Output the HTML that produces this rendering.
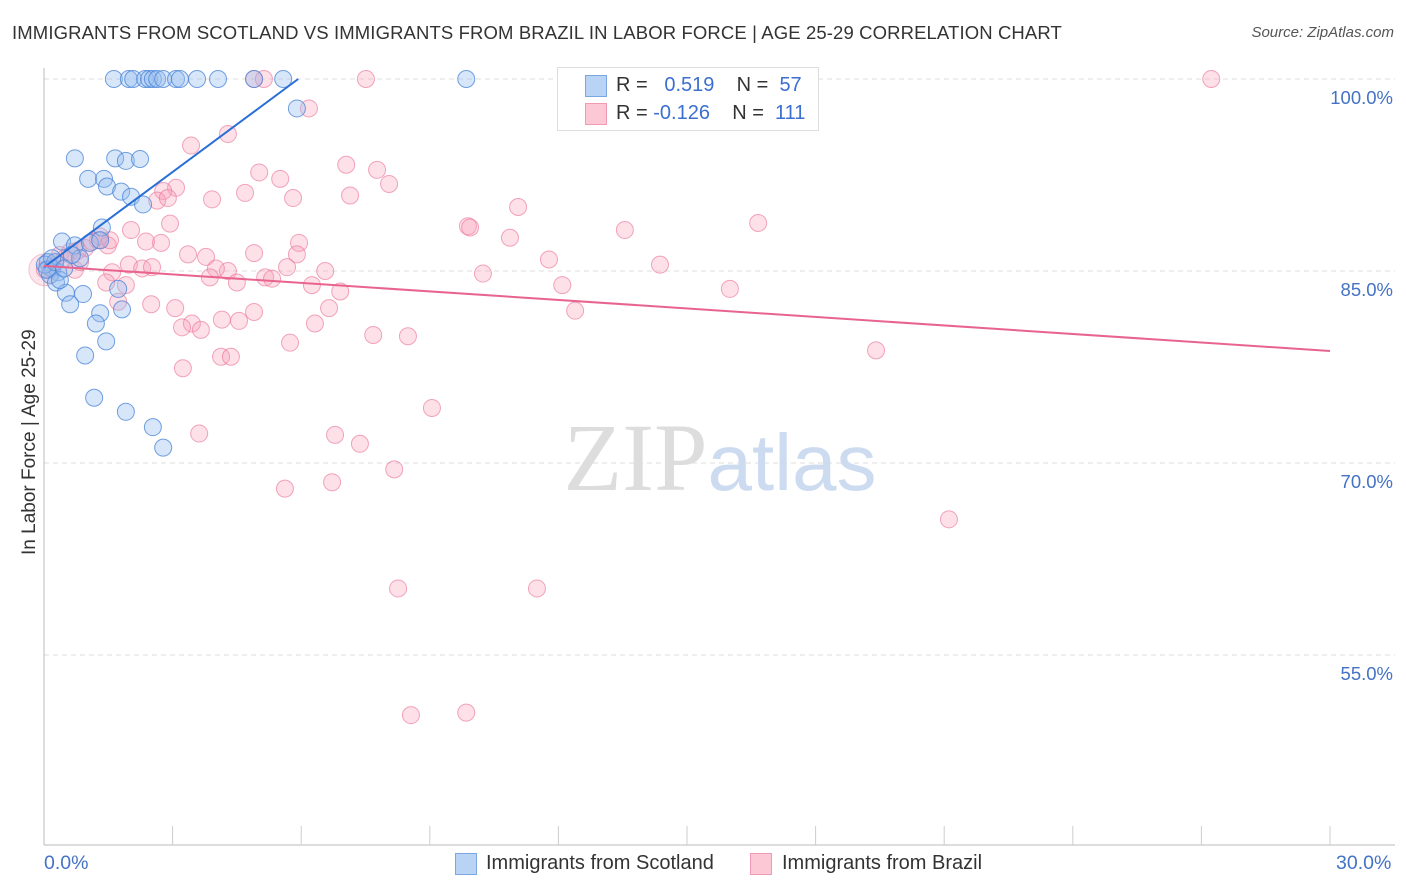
<!DOCTYPE html>
<html><head><meta charset="utf-8"><style>
body{margin:0;background:#fff;font-family:"Liberation Sans",sans-serif;}
#wrap{position:relative;width:1406px;height:892px;overflow:hidden;}
.t{position:absolute;white-space:nowrap;}
</style></head><body>
<div id="wrap">
<div class="t" style="left:12px;top:22px;font-size:18.5px;letter-spacing:0.12px;color:#333;">IMMIGRANTS FROM SCOTLAND VS IMMIGRANTS FROM BRAZIL IN LABOR FORCE | AGE 25-29 CORRELATION CHART</div>
<div class="t" style="right:12px;top:24px;font-size:15px;color:#555;font-style:italic;">Source: ZipAtlas.com</div>
<div class="t" style="left:-70px;top:444px;font-size:19px;color:#333;transform:rotate(-90deg);transform-origin:center;width:200px;text-align:center;">In Labor Force | Age 25-29</div>
<svg id="svg" width="1406" height="892" style="position:absolute;left:0;top:0"></svg>
<div class="t" style="left:44px;top:852px;font-size:19.5px;color:#4472c4;">0.0%</div>
<div class="t" style="left:1336px;top:852px;font-size:19.5px;color:#4472c4;">30.0%</div>
<div style="position:absolute;left:455px;top:853px;width:20px;height:20px;background:#b9d3f5;border:1px solid #7ba6e0;"></div>
<div class="t" style="left:486px;top:852px;font-size:20px;color:#333;">Immigrants from Scotland</div>
<div style="position:absolute;left:750px;top:853px;width:20px;height:20px;background:#fdc8d6;border:1px solid #f29ab3;"></div>
<div class="t" style="left:782px;top:852px;font-size:20px;color:#333;">Immigrants from Brazil</div>
<div style="position:absolute;left:557px;top:67px;width:260px;height:62px;border:1px solid #ddd;background:#fff;">
 <div style="position:absolute;left:27px;top:7px;width:20px;height:20px;background:#b9d3f5;border:1px solid #7ba6e0;"></div>
 <div class="t" style="left:58px;top:6px;font-size:20px;color:#333;">R = &nbsp;<span style="color:#3b6fd0">&nbsp;0.519</span>&nbsp;&nbsp;&nbsp; N = &nbsp;<span style="color:#3b6fd0">57</span></div>
 <div style="position:absolute;left:27px;top:35px;width:20px;height:20px;background:#fdc8d6;border:1px solid #f29ab3;"></div>
 <div class="t" style="left:58px;top:34px;font-size:20px;color:#333;">R = <span style="color:#3b6fd0">-0.126</span>&nbsp;&nbsp;&nbsp; N = &nbsp;<span style="color:#3b6fd0">111</span></div>
</div>
</div>
<script>
const yTicks=[100,85,70,55];
const yTickLabels=["100.0%","85.0%","70.0%","55.0%"];
const scotX=[1.63,1.98,2.08,2.36,2.45,2.54,2.64,2.78,3.08,3.17,3.57,4.06,4.90,5.58,9.85,5.90,0.72,1.66,1.91,2.24,1.03,1.40,1.47,1.80,2.03,2.31,1.35,0.42,0.72,0.84,0.09,0.19,0.33,0.14,0.28,0.51,0.91,0.61,1.73,1.82,1.31,1.21,1.45,0.96,1.17,1.91,2.54,2.78,0.02,0.07,0.26,0.37,0.65,1.07,1.31,0.19,0.47];
const scotY=[100,100,100,100,100,100,100,100,100,100,100,100,100,100,100,97.7,93.8,93.8,93.6,93.75,92.2,92.2,91.6,91.2,90.8,90.2,88.4,87.3,87.0,86.0,85.7,85.2,84.9,84.7,84.1,83.3,83.2,82.4,83.6,82.0,81.7,80.9,79.5,78.4,75.1,74.0,72.8,71.2,85.5,85.1,85.7,84.3,86.25,87.2,87.4,86.0,85.2];
const brazX=[4.90,5.13,7.51,27.23,6.18,4.29,3.43,7.05,5.02,7.77,5.51,3.08,2.78,4.69,3.92,5.81,7.14,8.05,2.64,2.89,11.06,2.94,9.89,9.94,13.55,16.66,2.38,2.73,2.03,1.49,10.87,5.95,5.90,3.36,3.78,4.29,1.98,4.90,4.01,11.78,14.37,6.56,5.67,2.29,1.59,2.52,10.24,3.87,4.50,5.16,5.32,6.25,1.45,1.91,6.91,12.09,16.00,1.73,2.50,3.06,4.90,6.65,12.39,3.45,4.15,4.55,3.22,3.66,6.32,7.68,8.49,5.74,19.41,4.13,4.36,3.24,9.05,3.62,6.79,7.37,8.17,5.62,6.72,21.11,8.26,11.50,8.56,9.85,0.14,0.26,0.37,0.49,0.61,0.79,0.96,1.12,1.26,0.72,0.84,1.31,1.54,0.02];
const brazY=[100,100,100,100,97.7,95.7,94.8,93.3,92.7,92.9,92.2,91.5,91.25,91.1,90.6,90.7,90.9,91.8,90.5,90.7,90.0,88.7,88.5,88.4,88.2,88.75,87.3,87.2,88.2,87.0,87.6,87.2,86.3,86.3,86.1,85.0,85.5,86.4,85.2,85.9,85.5,85.0,85.3,85.2,84.9,85.3,84.8,84.5,84.1,84.5,84.4,83.9,84.1,83.9,83.4,83.9,83.6,82.6,82.4,82.1,81.8,82.1,81.9,80.9,81.2,81.1,80.6,80.4,80.9,80.0,79.9,79.4,78.8,78.3,78.3,77.4,74.3,72.3,72.2,71.5,69.5,68.0,68.5,65.6,60.2,60.2,50.3,50.5,85.2,85.7,86.25,86.0,86.5,86.6,86.8,87.3,87.4,85.1,85.7,87.7,87.4,85.1];
const scotTrend=[0,85.3,5.93,100];
const brazTrend=[0,85.4,30,78.75];
const NS="http://www.w3.org/2000/svg";
const svg=document.getElementById('svg');
const X=v=>44+v/30*1286;
const Y=v=>79+(100-v)*12.8;
function mk(t,a){const e=document.createElementNS(NS,t);for(const k in a)e.setAttribute(k,a[k]);svg.appendChild(e);return e;}
yTicks.forEach((v,i)=>{
 const g=mk('line',{x1:44,x2:1395,y1:Y(v),y2:Y(v),stroke:'#ddd','stroke-dasharray':'5,4'});
 
 
 const t=mk('text',{x:1393,y:Y(v)+25,'text-anchor':'end','font-size':18.5,fill:'#4472c4','font-family':'Liberation Sans, sans-serif'});
 t.textContent=yTickLabels[i];
 
 
});
let ax=mk('line',{x1:44,x2:44,y1:68,y2:845,stroke:'#bbb'});


ax=mk('line',{x1:44,x2:1395,y1:845,y2:845,stroke:'#bbb'});


for(let k=1;k<=10;k++){const tk=mk('line',{x1:X(k*3),x2:X(k*3),y1:826,y2:845,stroke:'#ccc'});
 
 }
const wm=mk('text',{x:720,y:490,'text-anchor':'middle','font-size':96,fill:'#ddd','font-family':'Liberation Serif, serif'});
wm.innerHTML='ZIP<tspan fill="#cddbf0" font-family="Liberation Sans, sans-serif" font-size="80">atlas</tspan>';


const bg=mk('circle',{cx:X(0.02),cy:Y(85.1),r:16,fill:'rgba(240,130,160,0.2)',stroke:'rgba(230,120,150,0.4)'});


brazX.forEach((x,i)=>{const c=mk('circle',{cx:X(x),cy:Y(brazY[i]),r:8.5,fill:'rgba(248,160,185,0.32)',stroke:'rgba(235,120,155,0.65)','stroke-width':1});
 
 });
scotX.forEach((x,i)=>{const c=mk('circle',{cx:X(x),cy:Y(scotY[i]),r:8.5,fill:'rgba(150,190,240,0.38)',stroke:'rgba(70,130,215,0.75)','stroke-width':1});
 
 });
let l=mk('line',{x1:X(scotTrend[0]),y1:Y(scotTrend[1]),x2:X(scotTrend[2]),y2:Y(scotTrend[3]),stroke:'#2a6fd6','stroke-width':2});


l=mk('line',{x1:X(brazTrend[0]),y1:Y(brazTrend[1]),x2:X(brazTrend[2]),y2:Y(brazTrend[3]),stroke:'#e8648e','stroke-width':2});


</script>
</body></html>
